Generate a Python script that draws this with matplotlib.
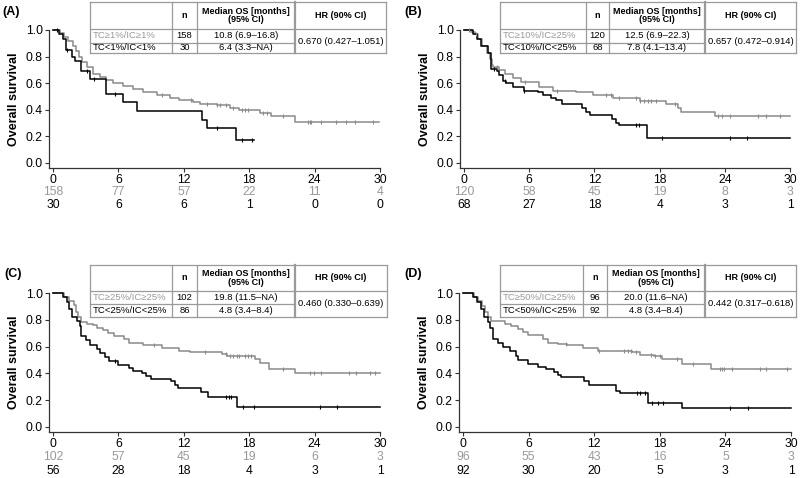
import numpy as np
import matplotlib
matplotlib.use("Agg")
import matplotlib.pyplot as plt
import matplotlib.transforms as mtransforms
from matplotlib.lines import Line2D

W, H = 800, 478
GRAY = "#8a8a8a"
GRAY_TXT = "#999999"
BORDER = "#9a9a9a"
FONT = ["Liberation Sans", "DejaVu Sans"]

XTICKS = [0, 6, 12, 18, 24, 30]
YTICKS = [0.0, 0.2, 0.4, 0.6, 0.8, 1.0]

# ---- (A) TC/IC 1% ----
A_HI_T = [0, 0.6, 1.0, 1.4, 1.8, 2.1, 2.4, 2.7, 3.1, 3.7, 4.3, 4.9, 5.5, 6.4, 7.3,
          8.3, 9.5, 10.7, 11.6, 12.8, 13.5, 15.0, 16.2, 17.1, 19.0, 20.0, 22.2]
A_HI_S = [1.0, 0.975, 0.95, 0.92, 0.88, 0.84, 0.80, 0.76, 0.72, 0.67, 0.645, 0.625, 0.60, 0.58, 0.555,
          0.53, 0.51, 0.49, 0.47, 0.455, 0.445, 0.435, 0.41, 0.40, 0.375, 0.35, 0.31]
A_HI_END = 29.9
A_HI_C = [10.0, 12.7, 14.1, 15.0, 15.3, 15.9, 16.5, 17.3, 17.6, 17.9, 19.3, 19.6, 21.1,
          23.4, 23.6, 23.7, 24.6, 26.0, 26.9, 27.7, 29.4]
A_LO_T = [0, 0.55, 0.92, 1.16, 1.78, 2.0, 2.54, 3.43, 4.84, 6.43, 7.71, 13.68, 14.14, 16.77]
A_LO_S = [1.0, 0.967, 0.933, 0.85, 0.80, 0.77, 0.69, 0.635, 0.52, 0.455, 0.39, 0.32, 0.26, 0.17]
A_LO_END = 18.4
A_LO_C = [0.4, 1.3, 3.1, 3.8, 5.7, 15.0, 17.3, 18.3]
A_RISK_HI = [158, 77, 57, 22, 11, 4]
A_RISK_LO = [30, 6, 6, 1, 0, 0]
A_ROWS = ["TC\u22651%/IC\u22651%", "TC<1%/IC<1%"]
A_N = ["158", "30"]
A_MED = ["10.8 (6.9\u201316.8)", "6.4 (3.3\u2013NA)"]
A_HR = "0.670 (0.427\u20131.051)"

# ---- (B) TC 10% / IC 25% ----
B_HI_T = [0, 0.6, 1.0, 1.3, 1.7, 2.1, 2.4, 2.55, 2.7, 3.2, 3.8, 4.5, 5.2, 6.9, 8.2,
          10.3, 11.85, 13.7, 16.2, 18.6, 19.7, 20.0, 23.1]
B_HI_S = [1.0, 0.985, 0.97, 0.93, 0.88, 0.83, 0.78, 0.74, 0.72, 0.70, 0.67, 0.64, 0.61, 0.575, 0.54,
          0.53, 0.51, 0.49, 0.465, 0.44, 0.41, 0.38, 0.35]
B_HI_END = 30.0
B_HI_C = [0.5, 1.1, 3.0, 5.6, 8.6, 13.1, 13.5, 14.3, 15.8, 16.2, 16.6, 16.9, 17.2, 17.7,
          19.4, 23.4, 23.7, 24.5, 27.1, 27.8, 29.1]
B_LO_T = [0, 0.8, 1.2, 1.6, 2.2, 2.46, 3.0, 3.2, 3.55, 3.9, 4.5, 5.5, 6.8, 7.3, 8.0,
          8.5, 9.0, 10.9, 11.2, 11.6, 13.6, 14.0, 14.3, 16.8]
B_LO_S = [1.0, 0.97, 0.93, 0.88, 0.83, 0.71, 0.69, 0.66, 0.62, 0.60, 0.57, 0.54, 0.53, 0.51, 0.49,
          0.47, 0.44, 0.41, 0.385, 0.36, 0.33, 0.30, 0.285, 0.19]
B_LO_END = 30.0
B_LO_C = [2.77, 3.8, 5.5, 15.8, 16.1, 18.2, 24.5, 26.0]
B_RISK_HI = [120, 58, 45, 19, 8, 3]
B_RISK_LO = [68, 27, 18, 4, 3, 1]
B_ROWS = ["TC\u226510%/IC\u226525%", "TC<10%/IC<25%"]
B_N = ["120", "68"]
B_MED = ["12.5 (6.9\u201322.3)", "7.8 (4.1\u201313.4)"]
B_HR = "0.657 (0.472\u20130.914)"

# ---- (C) TC/IC 25% ----
C_HI_T = [0, 1.0, 1.5, 1.9, 2.1, 2.3, 2.6, 3.1, 3.7, 4.0, 4.6, 5.0, 5.6, 6.5, 7.0,
          8.3, 10.0, 11.6, 12.6, 15.5, 16.0, 18.5, 19.0, 19.8, 22.2]
C_HI_S = [1.0, 0.97, 0.94, 0.91, 0.86, 0.82, 0.78, 0.77, 0.76, 0.74, 0.72, 0.70, 0.68, 0.66, 0.63,
          0.61, 0.59, 0.57, 0.56, 0.545, 0.53, 0.51, 0.48, 0.43, 0.40]
C_HI_END = 30.0
C_HI_C = [9.3, 13.9, 15.9, 16.2, 16.5, 16.9, 17.1, 17.6, 17.9, 18.2, 21.1,
          23.6, 23.9, 24.6, 27.2, 27.8, 29.1, 29.5]
C_LO_T = [0, 0.9, 1.3, 1.5, 1.7, 2.2, 2.5, 2.6, 3.0, 3.4, 4.0, 4.3, 4.8, 5.1, 6.0,
          7.0, 7.3, 8.2, 8.5, 9.0, 10.8, 11.2, 11.5, 13.6, 14.2, 16.9]
C_LO_S = [1.0, 0.97, 0.93, 0.88, 0.82, 0.79, 0.75, 0.68, 0.65, 0.61, 0.58, 0.55, 0.52, 0.49, 0.46,
          0.44, 0.42, 0.40, 0.38, 0.36, 0.34, 0.31, 0.29, 0.26, 0.225, 0.15]
C_LO_END = 30.0
C_LO_C = [5.7, 15.9, 16.1, 16.3, 17.4, 18.4, 24.5, 26.1]
C_RISK_HI = [102, 57, 45, 19, 6, 3]
C_RISK_LO = [56, 28, 18, 4, 3, 1]
C_ROWS = ["TC\u226525%/IC\u226525%", "TC<25%/IC<25%"]
C_N = ["102", "86"]
C_MED = ["19.8 (11.5\u2013NA)", "4.8 (3.4\u20138.4)"]
C_HR = "0.460 (0.330\u20130.639)"

# ---- (D) TC 50% / IC 25% ----
D_HI_T = [0, 1.0, 1.4, 1.7, 2.0, 2.3, 2.6, 3.8, 4.4, 5.0, 5.5, 5.9, 7.3, 7.8, 8.7,
          9.5, 11.0, 12.3, 15.5, 16.2, 17.5, 18.2, 20.0, 22.7]
D_HI_S = [1.0, 0.97, 0.94, 0.90, 0.86, 0.82, 0.79, 0.77, 0.75, 0.73, 0.71, 0.69, 0.66, 0.63, 0.62,
          0.61, 0.59, 0.57, 0.56, 0.54, 0.53, 0.51, 0.47, 0.43]
D_HI_END = 30.0
D_HI_C = [9.4, 12.4, 14.7, 15.1, 15.4, 15.8, 17.2, 17.6, 18.0, 19.6, 21.0,
          23.5, 23.7, 23.9, 24.6, 27.2, 27.7, 29.6]
D_LO_T = [0, 0.9, 1.3, 1.6, 1.9, 2.3, 2.5, 2.7, 3.2, 3.7, 4.3, 4.8, 5.0, 5.9, 6.9,
          7.6, 8.3, 8.7, 9.0, 11.1, 11.5, 14.0, 14.4, 16.9, 20.0]
D_LO_S = [1.0, 0.97, 0.93, 0.88, 0.82, 0.78, 0.74, 0.66, 0.63, 0.60, 0.57, 0.53, 0.50, 0.47, 0.45,
          0.43, 0.41, 0.39, 0.37, 0.34, 0.31, 0.27, 0.25, 0.18, 0.14]
D_LO_END = 30.0
D_LO_C = [15.9, 16.2, 16.6, 17.3, 17.8, 18.3, 24.4, 26.1]
D_RISK_HI = [96, 55, 43, 16, 5, 3]
D_RISK_LO = [92, 30, 20, 5, 3, 1]
D_ROWS = ["TC\u226550%/IC\u226525%", "TC<50%/IC<25%"]
D_N = ["96", "92"]
D_MED = ["20.0 (11.6\u2013NA)", "4.8 (3.4\u20138.4)"]
D_HR = "0.442 (0.317\u20130.618)"


def fx(x):
    return x / W


def fy(y):
    return 1 - y / H


def km_curve(ax, t, s, end, cens, color):
    tt = list(t) + [end]
    ss = list(s) + [s[-1]]
    ax.step(tt, ss, where="post", color=color, lw=1.1, clip_on=False, zorder=3)
    idx = np.searchsorted(np.array(t), np.array(cens), side="right") - 1
    ax.plot(cens, np.array(s)[idx], ls="none", marker="|", ms=3.5, mew=0.8,
            color=color, clip_on=False, zorder=4)


def draw_table(fig, cols, rows, labels, n, med, hr):
    # cols / rows: pixel positions of the cell borders (from the top-left corner)
    left, right = cols[0], cols[-1]
    top, bottom = rows[0], rows[-1]
    segs = [
        ([left, right], [top, top]), ([left, right], [bottom, bottom]),
        ([left, right], [rows[1], rows[1]]), ([left, cols[3]], [rows[2], rows[2]]),
        ([left, left], [top, bottom]), ([right, right], [top, bottom]),
        ([cols[1], cols[1]], [top, bottom]), ([cols[2], cols[2]], [top, bottom]),
    ]
    for xs, ys in segs:
        fig.add_artist(Line2D([fx(v) for v in xs], [fy(v) for v in ys],
                              transform=fig.transFigure, color=BORDER, lw=0.9))
    fig.add_artist(Line2D([fx(cols[3])] * 2, [fy(top), fy(bottom)],
                          transform=fig.transFigure, color=BORDER, lw=1.6))

    hy = (top + rows[1]) / 2
    tk = dict(fontsize=6.5, fontweight="bold", ha="center", va="center", family=FONT)
    fig.text(fx((cols[1] + cols[2]) / 2), fy(hy), "n", **tk)
    fig.text(fx((cols[2] + cols[3]) / 2), fy(hy), "Median OS [months]\n(95% CI)",
             linespacing=1.0, **tk)
    fig.text(fx((cols[3] + right) / 2), fy(hy), "HR (90% CI)", **tk)

    rk = dict(fontsize=6.8, va="center", family=FONT)
    for i, c in enumerate([GRAY_TXT, "black"]):
        yc = (rows[1 + i] + rows[2 + i]) / 2
        fig.text(fx(left + 2.5), fy(yc), labels[i], color=c, ha="left", **rk)
        fig.text(fx((cols[1] + cols[2]) / 2), fy(yc), n[i], ha="center", **rk)
        fig.text(fx((cols[2] + cols[3]) / 2), fy(yc), med[i], ha="center", **rk)
    fig.text(fx((cols[3] + right) / 2), fy((rows[1] + bottom) / 2), hr, ha="center", **rk)


def draw_panel(fig, box, label, lab_xy, hi, lo, risk_hi, risk_lo, risk_y):
    l, r, b, t = box
    ax = fig.add_axes([fx(l), fy(b), fx(r - l), (b - t) / H])
    km_curve(ax, *hi, color=GRAY)
    km_curve(ax, *lo, color="black")
    ax.set_xlim(-0.37, 30)
    ax.set_ylim(-0.038, 1.0)
    ax.set_xticks(XTICKS)
    ax.set_yticks(YTICKS)
    ax.set_yticklabels([f"{v:.1f}" for v in YTICKS])
    ax.set_xticklabels([str(v) for v in XTICKS])
    ax.spines[["top", "right"]].set_visible(False)
    for sp in ("left", "bottom"):
        ax.spines[sp].set_linewidth(0.9)
        ax.spines[sp].set_color("#333333")
    ax.tick_params(direction="out", length=3, width=0.8, labelsize=8.7, pad=1.5,
                   color="#333333")
    for lbl in ax.get_xticklabels() + ax.get_yticklabels():
        lbl.set_family(FONT)
    ax.set_ylabel("Overall survival", fontsize=9, fontweight="bold", family=FONT, labelpad=4)

    # numbers at risk under the x axis
    tr = mtransforms.blended_transform_factory(ax.transData, fig.transFigure)
    for x, a, c in zip(XTICKS, risk_hi, risk_lo):
        ax.text(x, fy(risk_y[0]), str(a), transform=tr, ha="center", va="center",
                fontsize=8.7, color=GRAY_TXT, family=FONT)
        ax.text(x, fy(risk_y[1]), str(c), transform=tr, ha="center", va="center",
                fontsize=8.7, color="black", family=FONT)
    fig.text(fx(lab_xy[0]), fy(lab_xy[1]), label, fontsize=9, fontweight="bold",
             ha="left", va="center", family=FONT)
    return ax


fig = plt.figure(figsize=(W / 100, H / 100), dpi=100)

draw_panel(fig, (49, 380, 168, 30), "(A)", (2, 12),
           (A_HI_T, A_HI_S, A_HI_END, A_HI_C), (A_LO_T, A_LO_S, A_LO_END, A_LO_C),
           A_RISK_HI, A_RISK_LO, (192.5, 205))
draw_table(fig, [90, 172, 197, 295, 386], [2, 29, 43, 53], A_ROWS, A_N, A_MED, A_HR)

draw_panel(fig, (460, 790, 168, 30), "(B)", (404, 12),
           (B_HI_T, B_HI_S, B_HI_END, B_HI_C), (B_LO_T, B_LO_S, B_LO_END, B_LO_C),
           B_RISK_HI, B_RISK_LO, (192.5, 205))
draw_table(fig, [500, 586, 609, 705, 796], [2, 29, 43, 53], B_ROWS, B_N, B_MED, B_HR)

draw_panel(fig, (49, 380, 432, 293), "(C)", (4, 274),
           (C_HI_T, C_HI_S, C_HI_END, C_HI_C), (C_LO_T, C_LO_S, C_LO_END, C_LO_C),
           C_RISK_HI, C_RISK_LO, (457.5, 471.5))
draw_table(fig, [90, 172, 197, 295, 387], [265, 291, 304, 317], C_ROWS, C_N, C_MED, C_HR)

draw_panel(fig, (459, 791, 432, 293), "(D)", (404, 274),
           (D_HI_T, D_HI_S, D_HI_END, D_HI_C), (D_LO_T, D_LO_S, D_LO_END, D_LO_C),
           D_RISK_HI, D_RISK_LO, (457.5, 471.5))
draw_table(fig, [500, 583, 607, 705, 796], [265, 291, 304, 317], D_ROWS, D_N, D_MED, D_HR)

fig.savefig("out.png", dpi=100)
